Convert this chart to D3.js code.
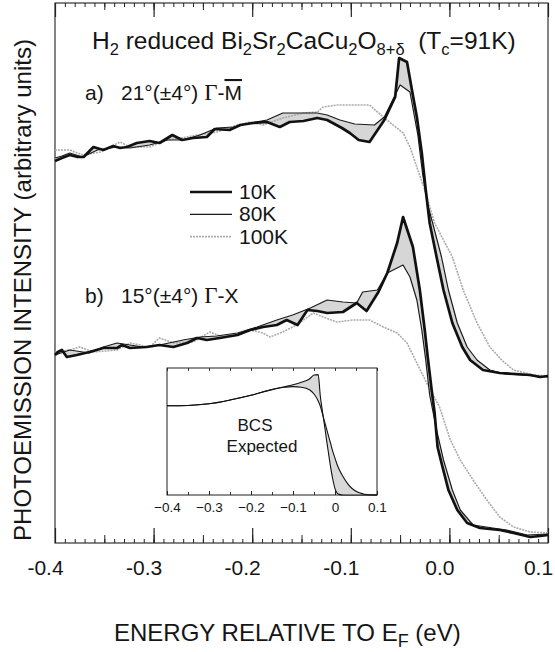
<!DOCTYPE html>
<html lang="en">
	<head>
		<meta charset="utf-8">
		<title>H2 reduced Bi2212 photoemission</title>
		<script type="text/javascript" src="https://cdn.jsdelivr.net/npm/d3@7"></script>
		<style>
			body { margin: 0; background: #fff; }
			svg text { font-family: "Liberation Sans", Arial, Helvetica, sans-serif; fill: #151515; }
		</style>
	</head>
	<body>
		<script type="text/javascript">

			// ---- data (energy in eV, intensity in arbitrary units) ----
			var energyDomain = [-0.4, 0.1];
			var majorTicks = [-0.4, -0.3, -0.2, -0.1, 0.0, 0.1];
			var majorTickLabels = ["-0.4", "-0.3", "-0.2", "-0.1", "0.0", "0.1"];
			var insetTicks = [-0.4, -0.3, -0.2, -0.1, 0.0, 0.1];
			var insetTickLabels = ["\u22120.4", "\u22120.3", "\u22120.2", "\u22120.1", "0", "0.1"];
			var temps = ["10K", "80K", "100K"];

			// a) 21deg Gamma-M
			var a10K = [[-0.400,382],[-0.393,385],[-0.385,388],[-0.377,386],[-0.371,386],[-0.361,396],[-0.351,393],[-0.341,397],[-0.334,395],[-0.327,396],[-0.317,400],[-0.304,402],[-0.294,400],[-0.281,408],[-0.271,403],[-0.260,405],[-0.246,406],[-0.238,414],[-0.223,413],[-0.212,418],[-0.199,420],[-0.185,421],[-0.172,416],[-0.162,421],[-0.148,422],[-0.134,425],[-0.124,423],[-0.109,415],[-0.101,410],[-0.092,403],[-0.081,401],[-0.066,423],[-0.055,446],[-0.051,485],[-0.043,481],[-0.038,453],[-0.033,426],[-0.028,390],[-0.024,353],[-0.020,320],[-0.013,286],[-0.006,253],[0.003,220],[0.013,196],[0.021,183],[0.034,173],[0.051,170],[0.067,169],[0.082,168],[0.092,166],[0.100,167]];
			var a80K = [[-0.400,385],[-0.393,387],[-0.385,390],[-0.372,386],[-0.357,393],[-0.337,396],[-0.324,395],[-0.304,398],[-0.286,403],[-0.270,403],[-0.253,408],[-0.236,415],[-0.219,416],[-0.202,420],[-0.185,423],[-0.169,430],[-0.155,430],[-0.134,430],[-0.124,428],[-0.111,423],[-0.096,419],[-0.076,418],[-0.066,426],[-0.050,458],[-0.040,451],[-0.032,408],[-0.027,368],[-0.022,338],[-0.017,320],[-0.008,286],[-0.001,253],[0.008,220],[0.018,196],[0.028,183],[0.041,173],[0.056,169],[0.072,168],[0.087,167],[0.100,166]];
			var a100K = [[-0.400,393],[-0.393,393],[-0.385,393],[-0.372,388],[-0.354,391],[-0.334,401],[-0.324,396],[-0.304,396],[-0.286,403],[-0.266,406],[-0.256,408],[-0.236,411],[-0.215,418],[-0.202,421],[-0.189,418],[-0.169,425],[-0.148,430],[-0.134,431],[-0.128,436],[-0.114,438],[-0.101,438],[-0.081,438],[-0.066,425],[-0.047,410],[-0.040,396],[-0.033,376],[-0.025,353],[-0.015,320],[0.003,286],[0.014,253],[0.028,220],[0.041,196],[0.053,183],[0.065,173],[0.085,168],[0.100,167]];

			// b) 15deg Gamma-X
			var b10K = [[-0.400,188],[-0.397,191],[-0.393,193],[-0.388,186],[-0.378,188],[-0.365,191],[-0.351,195],[-0.337,195],[-0.332,198],[-0.324,195],[-0.307,196],[-0.294,198],[-0.280,196],[-0.266,200],[-0.256,205],[-0.246,203],[-0.233,205],[-0.215,208],[-0.202,213],[-0.189,216],[-0.175,218],[-0.165,223],[-0.154,218],[-0.144,233],[-0.134,232],[-0.124,230],[-0.108,231],[-0.094,240],[-0.084,232],[-0.072,251],[-0.063,270],[-0.053,300],[-0.047,326],[-0.037,296],[-0.030,253],[-0.025,213],[-0.022,186],[-0.018,153],[-0.015,130],[-0.012,96],[-0.008,80],[-0.001,53],[0.008,33],[0.018,20],[0.031,15],[0.051,13],[0.065,10],[0.082,6],[0.092,7],[0.100,8]];
			var b80K = [[-0.400,188],[-0.385,193],[-0.365,190],[-0.351,196],[-0.337,200],[-0.311,196],[-0.294,198],[-0.270,203],[-0.253,206],[-0.236,207],[-0.215,210],[-0.195,216],[-0.175,223],[-0.159,228],[-0.141,235],[-0.124,243],[-0.108,241],[-0.094,240],[-0.088,251],[-0.073,253],[-0.063,270],[-0.047,278],[-0.040,266],[-0.033,243],[-0.028,213],[-0.024,183],[-0.020,148],[-0.013,113],[-0.006,83],[0.003,53],[0.011,33],[0.024,18],[0.044,15],[0.058,13],[0.079,8],[0.100,9]];
			var b100K = [[-0.400,191],[-0.385,193],[-0.375,196],[-0.361,191],[-0.337,193],[-0.324,200],[-0.304,196],[-0.294,205],[-0.280,200],[-0.260,201],[-0.243,211],[-0.230,206],[-0.215,208],[-0.202,213],[-0.189,210],[-0.182,206],[-0.169,211],[-0.155,218],[-0.148,223],[-0.138,230],[-0.128,226],[-0.114,221],[-0.098,223],[-0.081,223],[-0.067,216],[-0.053,210],[-0.043,200],[-0.033,180],[-0.023,160],[-0.010,136],[0.001,103],[0.011,83],[0.024,63],[0.038,43],[0.051,26],[0.065,16],[0.082,11],[0.100,10]];

			// inset: BCS expected (normal state vs superconducting)
			var insetE = [-0.40, -0.35, -0.30, -0.25, -0.20, -0.15, -0.12, -0.10, -0.08, -0.06, -0.05, -0.04, -0.035, -0.03, -0.025, -0.02, -0.015, -0.01, -0.005, 0.00, 0.005, 0.01, 0.02, 0.03, 0.04, 0.05, 0.06, 0.07, 0.08, 0.10];
			var insetNormal = [0.703, 0.705, 0.718, 0.748, 0.785, 0.830, 0.848, 0.853, 0.848, 0.827, 0.795, 0.740, 0.700, 0.640, 0.580, 0.520, 0.460, 0.400, 0.340, 0.290, 0.240, 0.200, 0.140, 0.090, 0.053, 0.030, 0.015, 0.006, 0.002, 0.000];
			var insetBCS = [0.703, 0.705, 0.718, 0.748, 0.785, 0.830, 0.852, 0.868, 0.888, 0.915, 0.945, 0.948, 0.780, 0.660, 0.550, 0.430, 0.320, 0.210, 0.120, 0.050, 0.015, 0.005, 0, 0, 0, 0, 0, 0, 0, 0];

			// ---- layout ----
			var w = 555;
			var h = 652;
			var plotLeft = 55, plotRight = 548, plotTop = 3, plotBottom = 543;
			var inLeft = 167, inRight = 377, inTop = 368, inBottom = 495;

			var svg = d3.select("body")
						.append("svg")
						.attr("width", w)
						.attr("height", h);

			var xScale = d3.scaleLinear().domain(energyDomain).range([plotLeft, plotRight]);
			var yScale = d3.scaleLinear().domain([0, 540]).range([plotBottom, plotTop]);

			var minorTicks = d3.range(-40, 11).map(function(i) { return i / 100; });
			var midTicks = d3.range(-8, 3).map(function(i) { return i / 20; });

			function tickRow(axisFn, scale, y, values, size, width) {
				svg.append("g")
				   .attr("transform", "translate(0," + y + ")")
				   .call(axisFn(scale).tickValues(values).tickSize(-size).tickSizeOuter(0).tickFormat(""))
				   .call(function(g) {
					   g.select(".domain").remove();
					   g.selectAll("line").attr("stroke", "#222").attr("stroke-width", width);
				   });
			}

			// frame + ticks of main plot
			svg.append("rect")
			   .attr("x", plotLeft).attr("y", plotTop)
			   .attr("width", plotRight - plotLeft).attr("height", plotBottom - plotTop)
			   .attr("fill", "none").attr("stroke", "#333").attr("stroke-width", 1.2);

			tickRow(d3.axisBottom, xScale, plotBottom, minorTicks, 4, 1);
			tickRow(d3.axisBottom, xScale, plotBottom, midTicks, 8, 1);
			tickRow(d3.axisTop, xScale, plotTop, minorTicks, 4, 1);
			tickRow(d3.axisTop, xScale, plotTop, midTicks, 7, 1);
			tickRow(d3.axisTop, xScale, plotTop, majorTicks, 14, 1.2);

			svg.append("g")
			   .attr("transform", "translate(0," + plotBottom + ")")
			   .call(d3.axisBottom(xScale)
					   .tickValues(majorTicks)
					   .tickSize(-15)
					   .tickSizeOuter(0)
					   .tickPadding(17)
					   .tickFormat(function(d, i) { return majorTickLabels[i]; }))
			   .call(function(g) {
				   g.select(".domain").remove();
				   g.attr("font-family", null).attr("font-size", null);
				   g.selectAll("line").attr("stroke", "#222").attr("stroke-width", 1.2);
				   g.selectAll("text").attr("x", -10).attr("font-size", "21px");
			   });

			// curves
			var line = d3.line()
						 .x(function(d) { return xScale(d[0]); })
						 .y(function(d) { return yScale(d[1]); });

			function band(upper, lower) {
				return line(upper.concat(lower.slice().reverse())) + "Z";
			}

			var spectra = [
				{ s10: a10K, s80: a80K, s100: a100K },
				{ s10: b10K, s80: b80K, s100: b100K }
			];

			spectra.forEach(function(sp) {
				svg.append("path")
				   .attr("d", band(sp.s10, sp.s80))
				   .attr("fill", "#d6d6d6")
				   .attr("stroke", "none");
				svg.append("path")
				   .attr("d", line(sp.s100))
				   .attr("fill", "none")
				   .attr("stroke", "#aaaaaa")
				   .attr("stroke-width", 1.6)
				   .attr("stroke-dasharray", "2,1");
				svg.append("path")
				   .attr("d", line(sp.s80))
				   .attr("fill", "none")
				   .attr("stroke", "#1a1a1a")
				   .attr("stroke-width", 1.2)
				   .attr("stroke-linejoin", "round");
				svg.append("path")
				   .attr("d", line(sp.s10))
				   .attr("fill", "none")
				   .attr("stroke", "#111")
				   .attr("stroke-width", 2.7)
				   .attr("stroke-linejoin", "round");
			});

			// legend
			var legendStyles = [
				{ stroke: "#111", width: 2.7, dash: null },
				{ stroke: "#1a1a1a", width: 1.2, dash: null },
				{ stroke: "#aaaaaa", width: 1.6, dash: "2,1" }
			];
			var legend = svg.append("g").attr("transform", "translate(190,192)");
			legend.selectAll("line")
				  .data(temps)
				  .enter()
				  .append("line")
				  .attr("x1", 0).attr("x2", 42)
				  .attr("y1", function(d, i) { return i * 22.3; })
				  .attr("y2", function(d, i) { return i * 22.3; })
				  .attr("stroke", function(d, i) { return legendStyles[i].stroke; })
				  .attr("stroke-width", function(d, i) { return legendStyles[i].width; })
				  .attr("stroke-dasharray", function(d, i) { return legendStyles[i].dash; });
			legend.selectAll("text")
				  .data(temps)
				  .enter()
				  .append("text")
				  .text(function(d) { return d; })
				  .attr("x", 49)
				  .attr("y", function(d, i) { return i * 22.3 + 7; })
				  .attr("font-size", "21px");

			// title
			var titleParts = [["H", 0], ["2", 1], [" reduced Bi", 0], ["2", 1], ["Sr", 0], ["2", 1], ["CaCu", 0], ["2", 1], ["O", 0], ["8+\u03b4", 1], ["  (T", 0], ["c", 1], ["=91K)", 0]];
			var title = svg.append("text")
						   .attr("x", 92).attr("y", 49)
						   .attr("font-size", "24.5px")
						   .style("white-space", "pre");
			var prevSub = 0;
			titleParts.forEach(function(p) {
				title.append("tspan")
					 .attr("dy", p[1] === prevSub ? 0 : (p[1] ? 6 : -6))
					 .attr("font-size", p[1] ? "16.5px" : null)
					 .text(p[0]);
				prevSub = p[1];
			});

			// panel labels
			function panelLabel(y, tag, angle, end, overline) {
				var t = svg.append("text").attr("x", 85).attr("y", y).attr("font-size", "21px");
				t.append("tspan").text(tag);
				t.append("tspan").attr("x", 121).text(angle + " ");
				t.append("tspan").attr("font-family", "'Liberation Serif', 'DejaVu Serif', serif").attr("font-size", "23px").text("\u0393");
				t.append("tspan").text("-");
				t.append("tspan").style("text-decoration", overline ? "overline" : null).text(end);
			}
			panelLabel(100, "a)", "21\u00b0(\u00b14\u00b0)", "M", true);
			panelLabel(303, "b)", "15\u00b0(\u00b14\u00b0)", "X", false);

			// inset
			var ix = d3.scaleLinear().domain(energyDomain).range([inLeft, inRight]);
			var iy = d3.scaleLinear().domain([0, 1]).range([inBottom, inTop]);

			svg.append("rect")
			   .attr("x", inLeft).attr("y", inTop)
			   .attr("width", inRight - inLeft).attr("height", inBottom - inTop)
			   .attr("fill", "#fff").attr("stroke", "#333").attr("stroke-width", 1.1);

			var insetHalf = d3.range(-8, 3).map(function(i) { return i / 20; });
			tickRow(d3.axisBottom, ix, inBottom, insetHalf, 3, 0.9);
			tickRow(d3.axisTop, ix, inTop, insetHalf, 3, 0.9);

			svg.append("g")
			   .attr("transform", "translate(0," + inBottom + ")")
			   .call(d3.axisBottom(ix)
					   .tickValues(insetTicks)
					   .tickSize(-4)
					   .tickSizeOuter(0)
					   .tickPadding(7)
					   .tickFormat(function(d, i) { return insetTickLabels[i]; }))
			   .call(function(g) {
				   g.select(".domain").remove();
				   g.attr("font-family", null).attr("font-size", null);
				   g.selectAll("line").attr("stroke", "#222");
				   g.selectAll("text").attr("font-size", "13.5px");
			   });

			var insetRows = insetE.map(function(e, i) { return { e: e, n: insetNormal[i], s: insetBCS[i] }; });

			svg.append("path")
			   .datum(insetRows)
			   .attr("d", d3.area()
							.curve(d3.curveMonotoneX)
							.x(function(d) { return ix(d.e); })
							.y0(function(d) { return iy(d.n); })
							.y1(function(d) { return iy(d.s); }))
			   .attr("fill", "#d9d9d9");

			["n", "s"].forEach(function(k) {
				svg.append("path")
				   .datum(insetRows)
				   .attr("d", d3.line()
								.curve(d3.curveMonotoneX)
								.x(function(d) { return ix(d.e); })
								.y(function(d) { return iy(d[k]); }))
				   .attr("fill", "none")
				   .attr("stroke", "#111")
				   .attr("stroke-width", 1.1);
			});

			svg.append("text").attr("x", 255).attr("y", 431).attr("text-anchor", "middle").attr("font-size", "17px").text("BCS");
			svg.append("text").attr("x", 262).attr("y", 452).attr("text-anchor", "middle").attr("font-size", "17px").text("Expected");

			// axis titles
			svg.append("text")
			   .attr("transform", "translate(31,290) rotate(-90)")
			   .attr("text-anchor", "middle")
			   .attr("font-size", "24px")
			   .text("PHOTOEMISSION INTENSITY (arbitrary units)");

			var xl = svg.append("text")
						.attr("x", 114).attr("y", 641)
						.attr("font-size", "24px")
						.style("white-space", "pre");
			xl.append("tspan").text("ENERGY RELATIVE TO E");
			xl.append("tspan").attr("dy", 6).attr("font-size", "18px").text("F");
			xl.append("tspan").attr("dy", -6).text(" (eV)");

		</script>
	</body>
</html>
